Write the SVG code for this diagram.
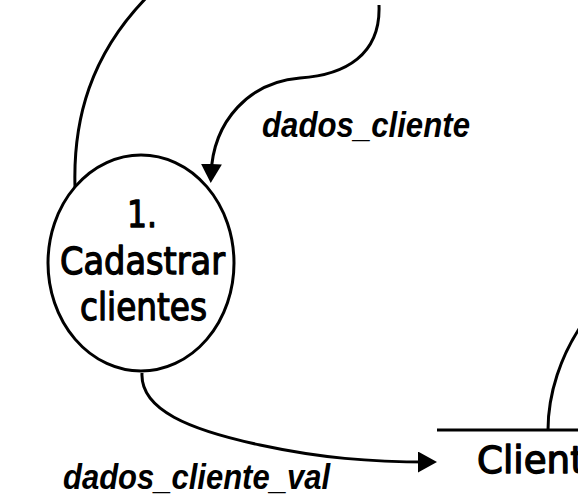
<svg xmlns="http://www.w3.org/2000/svg" width="578" height="498" viewBox="0 0 578 498">
  <style>
    .line { fill: none; stroke: #000; stroke-width: 3; }
    .proc { fill: #fff; stroke: #000; stroke-width: 3; }
    .hand { font-family: "DejaVu Sans", "Noto Sans", sans-serif; font-size: 37px; fill: #000; stroke: #000; stroke-width: 1.3; stroke-linejoin: round; }
    .lbl { font-family: "Liberation Sans", Arial, sans-serif; font-size: 35px; font-weight: bold; font-style: italic; fill: #000; }
  </style>
  <defs>
    <marker id="arrow" markerUnits="userSpaceOnUse" markerWidth="20" markerHeight="22" refX="11" refY="10.5" orient="auto">
      <path d="M0,0 L19,10.5 L0,21 z" fill="#000"/>
    </marker>
  </defs>
  <rect width="578" height="498" fill="#fff"/>

  <g id="connectors">
    <path class="line" d="M75,187 C73,120 90,55 148,-4"/>
    <path class="line" d="M379,5 C381,55 345,75 300,78 C250,82 213,120 211,175" marker-end="url(#arrow)"/>
    <path class="line" d="M142,373 C140,410 190,430 260,445 C320,458 370,462 429,462" marker-end="url(#arrow)"/>
    <path class="line" d="M548,430 C548,395 560,355 585,320"/>
    <text class="lbl" x="262" y="137" textLength="208" lengthAdjust="spacingAndGlyphs">dados_cliente</text>
    <text class="lbl" x="63" y="489" textLength="267" lengthAdjust="spacingAndGlyphs">dados_cliente_val</text>
  </g>

  <g id="process1">
    <ellipse class="proc" cx="141" cy="263" rx="93" ry="108"/>
    <text class="hand" x="142" y="227" text-anchor="middle" textLength="30" lengthAdjust="spacingAndGlyphs">1.</text>
    <text class="hand" x="60" y="274" textLength="165" lengthAdjust="spacingAndGlyphs">Cadastrar</text>
    <text class="hand" x="80" y="320" textLength="127" lengthAdjust="spacingAndGlyphs">clientes</text>
  </g>

  <g id="store-clientes">
    <path class="line" d="M437,430 H578"/>
    <text class="hand" x="477" y="473" textLength="150" lengthAdjust="spacingAndGlyphs">Clientes</text>
  </g>
</svg>
